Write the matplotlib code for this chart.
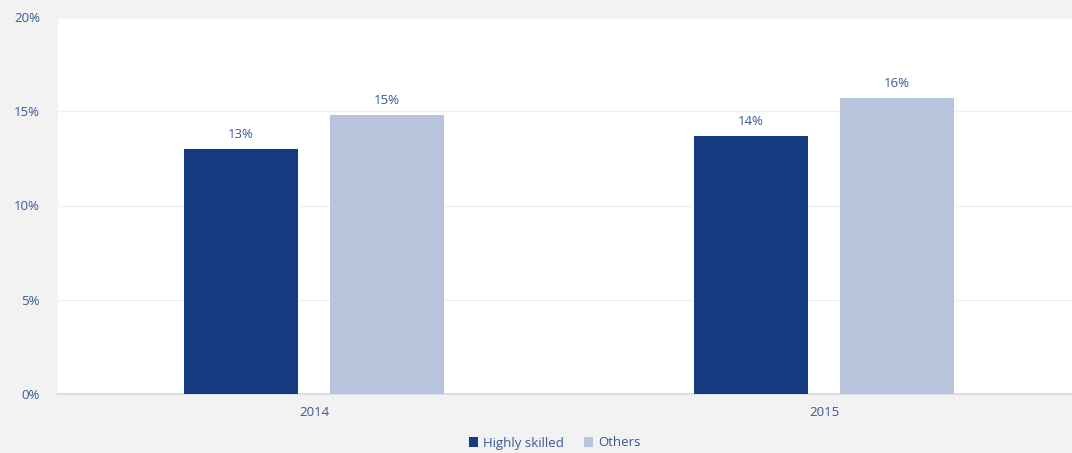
import matplotlib.pyplot as plt
import numpy as np

plt.rcParams["font.family"] = ["Open Sans", "DejaVu Sans"]

years = ["2014", "2015"]
highly_skilled = [13.0, 13.7]
others = [14.8, 15.7]
y_ticks = [0, 5, 10, 15, 20]

TEXT = "#3b5896"
DARK = "#163a80"
LIGHT = "#b8c4db"
BG = "#f2f2f2"

fig = plt.figure(figsize=(10.72, 4.53), dpi=100)
fig.patch.set_facecolor(BG)
ax = fig.add_axes([58 / 1072, 59 / 453, 1014 / 1072, 377 / 453])
ax.set_facecolor("white")

x = np.arange(len(years))
w = 0.2235
off = 0.143
b1 = ax.bar(x - off, highly_skilled, width=w, color=DARK, label="Highly skilled", zorder=3)
b2 = ax.bar(x + off, others, width=w, color=LIGHT, label="Others", zorder=3)

for bars in (b1, b2):
    for bar in bars:
        h = bar.get_height()
        ax.annotate(f"{h:.0f}%", (bar.get_x() + bar.get_width() / 2, h),
                    xytext=(0, 5.5), textcoords="offset points",
                    ha="center", va="bottom", fontsize=9.5, color=TEXT)

ax.set_xlim(-0.502, 1.486)
ax.set_ylim(0, 20)
ax.set_yticks(y_ticks)
ax.set_yticklabels([f"{t}%" for t in y_ticks])
ax.set_xticks(x)
ax.set_xticklabels(years)
ax.tick_params(axis="both", length=0, labelsize=9.5, labelcolor=TEXT)
ax.tick_params(axis="y", pad=13)
ax.tick_params(axis="x", pad=9)
ax.yaxis.grid(True, color="#f0f0f0", linewidth=1, zorder=0)
for s in ["top", "right", "left"]:
    ax.spines[s].set_visible(False)
ax.spines["bottom"].set_color("#d9dfea")
ax.spines["bottom"].set_linewidth(1.5)

leg = fig.legend(loc="center", bbox_to_anchor=(555 / 1072, 1 - 443 / 453),
                 ncol=2, frameon=False, fontsize=9.5, handlelength=0.7,
                 handleheight=0.7, handletextpad=0.4, columnspacing=1.5)
for t in leg.get_texts():
    t.set_color(TEXT)

fig.savefig("out.png", dpi=100, facecolor=BG)
